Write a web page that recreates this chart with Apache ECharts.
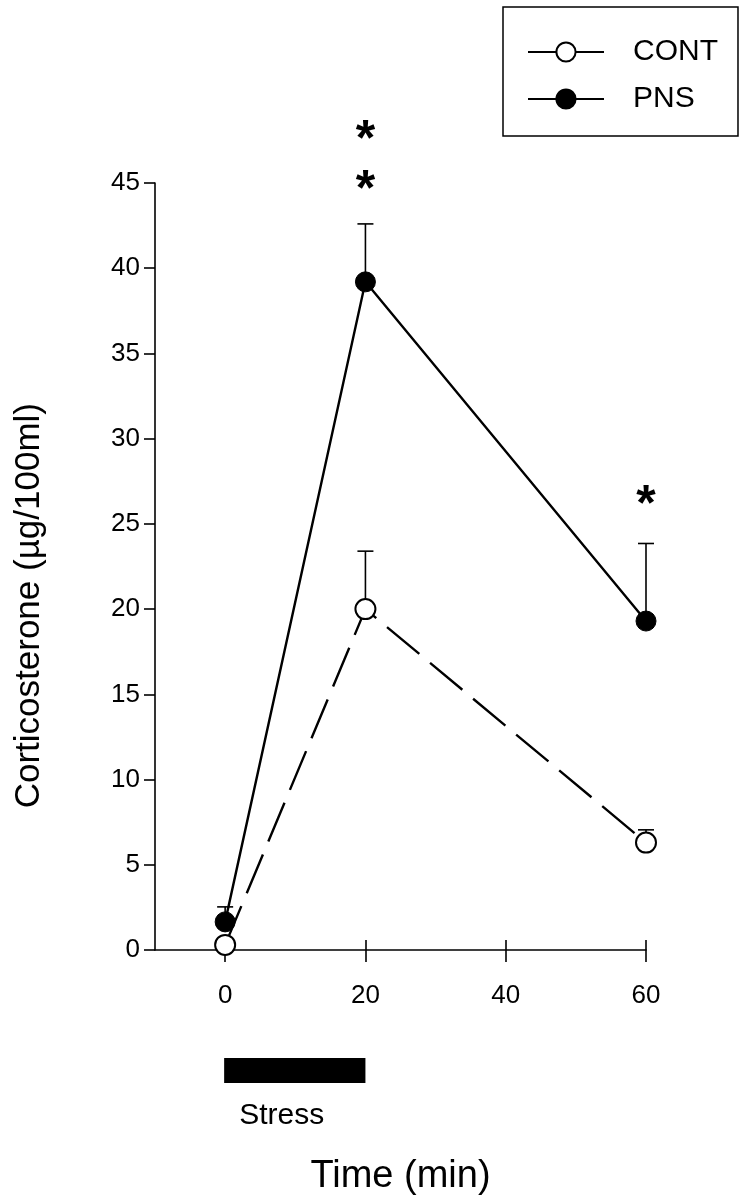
<!DOCTYPE html>
<html>
<head>
<meta charset="utf-8">
<script src="https://cdn.jsdelivr.net/npm/echarts@6/dist/echarts.min.js"></script>
<style>
  html, body { margin: 0; padding: 0; background: #fff; }
  #main { width: 749px; height: 1199px; }
</style>
</head>
<body>
<div id="main"></div>
<script>
  // 时间点 (min)
  var times = [0, 20, 60];
  // 对照组
  var contMean = [0.3, 20.0, 6.3];
  var contSem = [0.2, 3.4, 0.75];
  // PNS 组
  var pnsMean = [1.65, 39.2, 19.3];
  var pnsSem = [0.88, 3.4, 4.55];
  // 显著性星号 [x, y]
  var starMarks = [[20, 48.2], [20, 45.3], [60, 26.8]];
  // 应激时段
  var stressSpan = [0, 20];
  var xTicks = [0, 20, 40, 60];

  var FONT = "'Liberation Sans', Arial, sans-serif";

  function pairs(xs, ys) {
    var out = [];
    for (var i = 0; i < xs.length; i++) out.push([xs[i], ys[i]]);
    return out;
  }
  function triples(xs, ys, es) {
    var out = [];
    for (var i = 0; i < xs.length; i++) out.push([xs[i], ys[i], es[i]]);
    return out;
  }

  // 误差线
  function errorBar(params, api) {
    var x = api.value(0), m = api.value(1), e = api.value(2);
    var p0 = api.coord([x, m]);
    var p1 = api.coord([x, m + e]);
    var st = { stroke: '#000', lineWidth: 1.6 };
    return {
      type: 'group',
      children: [
        { type: 'line', shape: { x1: p0[0], y1: p0[1], x2: p1[0], y2: p1[1] }, style: st },
        { type: 'line', shape: { x1: p1[0] - 8, y1: p1[1], x2: p1[0] + 8, y2: p1[1] }, style: st }
      ]
    };
  }

  var chart = echarts.init(document.getElementById('main'));
  chart.setOption({
    backgroundColor: '#fff',
    animation: false,
    grid: { left: 155, right: 103, top: 183, bottom: 249, outerBoundsMode: 'none', containLabel: false },
    legend: {
      data: ['CONT', 'PNS'],
      orient: 'vertical',
      left: 503,
      top: 7,
      padding: [30, 20, 22, 24],
      itemWidth: 76,
      itemHeight: 24,
      itemGap: 17,
      borderColor: '#000',
      borderWidth: 1.5,
      lineStyle: { type: 'solid', width: 2, color: '#000' },
      textStyle: { fontFamily: FONT, fontSize: 30, color: '#000', padding: [0, 0, 0, 24] }
    },
    xAxis: [{
      type: 'value',
      min: -10,
      max: 60,
      name: 'Time (min)',
      nameLocation: 'middle',
      nameGap: 208,
      nameTextStyle: { fontFamily: FONT, fontSize: 38, color: '#000' },
      splitLine: { show: false },
      axisLine: { lineStyle: { color: '#000', width: 1.6 } },
      axisTick: { length: 12, customValues: xTicks, lineStyle: { color: '#000', width: 1.6 } },
      axisLabel: { customValues: xTicks, margin: 33, fontFamily: FONT, fontSize: 26, color: '#000' }
    }, {
      type: 'value',
      min: -10,
      max: 60,
      position: 'bottom',
      splitLine: { show: false },
      axisLine: { show: false },
      axisTick: { inside: true, length: 10, customValues: xTicks, lineStyle: { color: '#000', width: 1.6 } },
      axisLabel: { show: false }
    }],
    yAxis: {
      type: 'value',
      min: 0,
      max: 45,
      interval: 5,
      splitLine: { show: false },
      axisLine: { show: true, onZero: false, lineStyle: { color: '#000', width: 1.6 } },
      axisTick: { show: true, length: 11, lineStyle: { color: '#000', width: 1.6 } },
      axisLabel: { margin: 15, fontFamily: FONT, fontSize: 26, color: '#000' }
    },
    graphic: [{
      type: 'text',
      left: 12,
      top: 403,
      style: {
        text: 'Corticosterone (\u00b5g/100ml)',
        font: '35px ' + FONT,
        fill: '#000'
      },
      rotation: Math.PI / 2,
      originX: 0,
      originY: 0
    }],
    series: [{
      type: 'custom',
      name: 'contErr',
      renderItem: errorBar,
      encode: { x: 0, y: [1, 2] },
      data: triples(times, contMean, contSem),
      z: 1
    }, {
      type: 'custom',
      name: 'pnsErr',
      renderItem: errorBar,
      encode: { x: 0, y: [1, 2] },
      data: triples(times, pnsMean, pnsSem),
      z: 1
    }, {
      type: 'line',
      name: 'CONT',
      data: pairs(times, contMean),
      symbol: 'circle',
      symbolSize: 20,
      lineStyle: { color: '#000', width: 2.4, type: [42, 14] },
      itemStyle: { color: '#fff', borderColor: '#000', borderWidth: 2 },
      z: 3
    }, {
      type: 'line',
      name: 'PNS',
      data: pairs(times, pnsMean),
      symbol: 'circle',
      symbolSize: 20,
      lineStyle: { color: '#000', width: 2.4 },
      itemStyle: { color: '#000', borderColor: '#000', borderWidth: 1 },
      z: 2
    }, {
      type: 'custom',
      name: 'stars',
      clip: false,
      encode: { x: 0, y: 1 },
      data: starMarks,
      renderItem: function (params, api) {
        var p = api.coord([api.value(0), api.value(1)]);
        return {
          type: 'text',
          x: p[0],
          y: p[1] + 13,
          style: { text: '*', font: 'bold 50px ' + FONT, fill: '#000', textAlign: 'center', textVerticalAlign: 'middle' }
        };
      },
      z: 4
    }, {
      type: 'custom',
      name: 'stress',
      clip: false,
      encode: { x: [0, 1] },
      data: [stressSpan],
      renderItem: function (params, api) {
        var a = api.coord([api.value(0), 0]);
        var b = api.coord([api.value(1), 0]);
        return {
          type: 'group',
          children: [{
            type: 'rect',
            shape: { x: a[0] - 1, y: a[1] + 108, width: b[0] - a[0] + 1, height: 25 },
            style: { fill: '#000' }
          }, {
            type: 'text',
            x: a[0] + 14,
            y: a[1] + 166,
            style: { text: 'Stress', font: '30px ' + FONT, fill: '#000', textAlign: 'left', textVerticalAlign: 'middle' }
          }]
        };
      },
      z: 4
    }]
  });
</script>
</body>
</html>
